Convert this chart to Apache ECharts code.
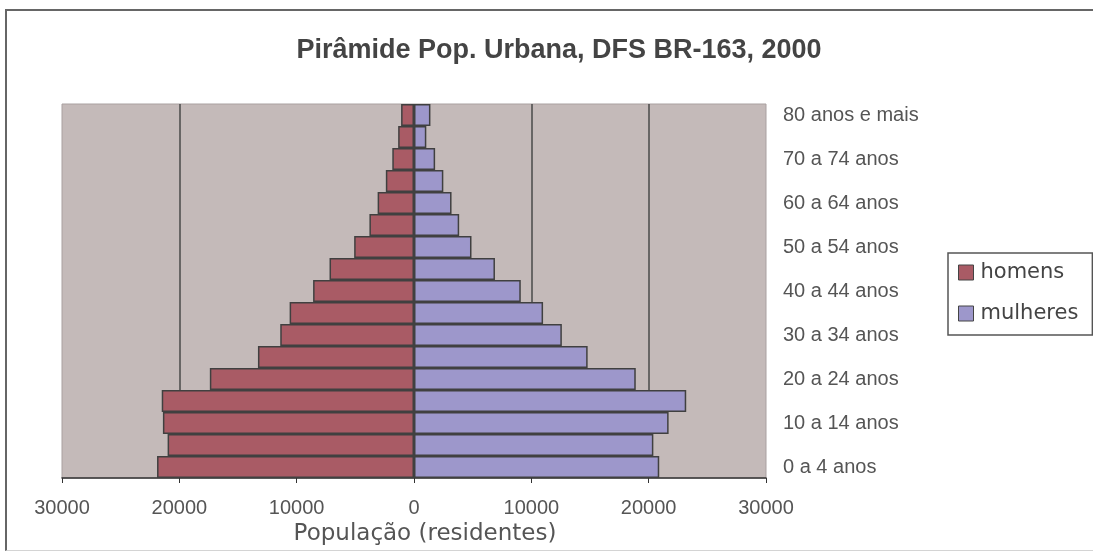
<!DOCTYPE html>
<html>
<head>
    <meta charset="utf-8">
    <title>Pirâmide Pop. Urbana, DFS BR-163, 2000</title>
    <script src="https://cdn.jsdelivr.net/npm/echarts@6/dist/echarts.min.js"></script>
    <style>
        html, body {
            margin: 0;
            padding: 0;
            width: 100%;
            height: 100%;
            overflow: hidden;
            background: #fff;
        }
        #frame {
            position: absolute;
            left: 5px;
            top: 9px;
            width: 1200px;
            height: 539px;
            border-left: 2px solid #666;
            border-top: 2px solid #666;
            border-bottom: 1px solid #d4d4d4;
        }
        #chart {
            position: absolute;
            left: 0;
            top: 0;
            width: 1093px;
            height: 551px;
        }
    </style>
</head>
<body>
    <div id="frame"></div>
    <div id="chart"></div>
    <script>
        // faixas etarias (de baixo para cima)
        const faixas = [
            '0 a 4 anos', '5 a 9 anos', '10 a 14 anos', '15 a 19 anos',
            '20 a 24 anos', '25 a 29 anos', '30 a 34 anos', '35 a 39 anos',
            '40 a 44 anos', '45 a 49 anos', '50 a 54 anos', '55 a 59 anos',
            '60 a 64 anos', '65 a 69 anos', '70 a 74 anos', '75 a 79 anos',
            '80 anos e mais'
        ];
        const homens = [21900, 21000, 21400, 21500, 17400, 13300, 11400, 10600,
                        8600, 7200, 5100, 3800, 3100, 2400, 1850, 1350, 1100];
        const mulheres = [20900, 20400, 21700, 23200, 18900, 14800, 12600, 11000,
                          9100, 6900, 4900, 3850, 3200, 2500, 1800, 1050, 1400];
        const xTicks = [-30000, 30000, 10000]; // min, max, intervalo

        const chart = echarts.init(document.getElementById('chart'), null, { renderer: 'canvas' });

        // linhas de grade so em -20000, 10000 e 20000 (como no original)
        const gridLineColors = ['transparent', '#4a4a4a', 'transparent', 'transparent',
                                '#4a4a4a', '#4a4a4a', 'transparent'];

        chart.setOption({
            animation: false,
            backgroundColor: 'transparent',
            title: {
                text: 'Pirâmide Pop. Urbana, DFS BR-163, 2000',
                left: 554,
                textAlign: 'center',
                top: 32,
                textStyle: {
                    fontFamily: 'Liberation Sans',
                    fontWeight: 'bold',
                    fontSize: 27,
                    color: '#444'
                }
            },
            legend: {
                orient: 'vertical',
                left: 948,
                top: 253,
                padding: [9, 14, 11, 10],
                itemGap: 20,
                itemWidth: 15,
                itemHeight: 15,
                icon: 'rect',
                borderColor: '#555',
                borderWidth: 1.5,
                backgroundColor: '#fff',
                itemStyle: { borderColor: '#444', borderWidth: 1 },
                textStyle: {
                    fontFamily: 'DejaVu Sans',
                    fontSize: 21,
                    lineHeight: 20,
                    color: '#444',
                    padding: [0, 0, 0, 2]
                },
                data: ['homens', 'mulheres']
            },
            grid: {
                left: 62,
                right: 327,
                top: 104,
                bottom: 73,
                show: true,
                backgroundColor: '#c4bab9',
                borderColor: '#a9a0a0',
                borderWidth: 1
            },
            xAxis: {
                type: 'value',
                min: xTicks[0],
                max: xTicks[1],
                interval: xTicks[2],
                name: 'População (residentes)',
                nameLocation: 'middle',
                nameGap: 43,
                nameTextStyle: {
                    fontFamily: 'DejaVu Sans',
                    fontSize: 23,
                    color: '#555',
                    padding: [0, 0, 0, 22]
                },
                axisLine: { show: true, lineStyle: { color: '#333', width: 1.5 } },
                axisTick: { show: true, length: 5, lineStyle: { color: '#333' } },
                axisLabel: {
                    margin: 20,
                    fontFamily: 'Liberation Sans',
                    fontSize: 20,
                    color: '#555',
                    formatter: v => String(Math.abs(v))
                },
                splitLine: {
                    show: true,
                    lineStyle: { color: gridLineColors, width: 1.5 }
                }
            },
            yAxis: {
                type: 'category',
                position: 'right',
                data: faixas,
                axisLine: { show: false },
                axisTick: { show: false },
                axisLabel: {
                    interval: 1,
                    margin: 17,
                    fontFamily: 'Liberation Sans',
                    fontSize: 20,
                    color: '#555'
                }
            },
            series: [
                {
                    name: 'homens',
                    type: 'bar',
                    barCategoryGap: '0%',
                    barGap: '-100%',
                    data: homens.map(v => -v),
                    itemStyle: { color: '#a95b65', borderColor: '#404040', borderWidth: 1.5 }
                },
                {
                    name: 'mulheres',
                    type: 'bar',
                    barCategoryGap: '0%',
                    barGap: '-100%',
                    data: mulheres,
                    itemStyle: { color: '#9d97cb', borderColor: '#404040', borderWidth: 1.5 }
                }
            ]
        });
    </script>
</body>
</html>
